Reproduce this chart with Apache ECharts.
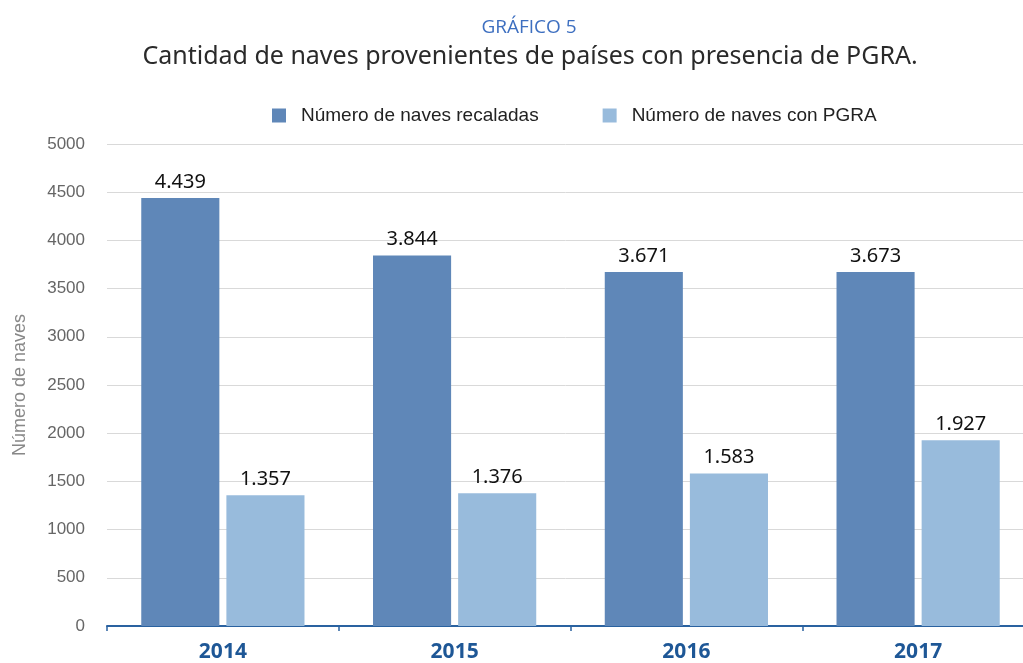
<!DOCTYPE html>
<html><head><meta charset="utf-8">
<script src="https://cdn.jsdelivr.net/npm/echarts@6/dist/echarts.min.js"></script>
<style>html,body{margin:0;padding:0;background:#fff}#c{width:1023px;height:663px}</style>
</head><body><div id="c"></div>
<script>
const categories = ['2014','2015','2016','2017'];
const recaladas = [4439, 3844, 3671, 3673];
const conPGRA = [1357, 1376, 1583, 1927];
const seriesNames = ['Número de naves recaladas','Número de naves con PGRA'];

const chart = echarts.init(document.getElementById('c'));
const fmt = v => String(v.value).replace(/\B(?=(\d{3})+(?!\d))/g, '.');
chart.setOption({
  animation: false,
  title: [
    {text: 'GRÁFICO 5', left: 524, textAlign: 'center', top: 13, textStyle: {fontFamily: 'Open Sans', fontWeight: 'normal', fontSize: 19, color: '#3d6fc0'}},
    {text: 'Cantidad de naves provenientes de países con presencia de PGRA.', left: 525, textAlign: 'center', top: 39, textStyle: {fontFamily: 'Noto Sans', fontWeight: 'normal', fontSize: 25, color: '#2a2a2a'}}
  ],
  legend: {
    top: 101, left: 267, itemWidth: 14, itemHeight: 14, itemGap: 64,
    textStyle: {fontFamily: 'Liberation Sans', fontSize: 19, color: '#222', padding: [0, 0, 0, 10]},
    icon: 'rect'
  },
  grid: {left: 107, width: 927, top: 144, bottom: 37, outerBoundsMode: 'none'},
  xAxis: {
    type: 'category', data: categories,
    axisLine: {lineStyle: {color: '#2a62a0', width: 2}},
    axisTick: {show: true, length: 5, lineStyle: {color: '#2a62a0', width: 1.5}},
    axisLabel: {fontFamily: 'Noto Sans', fontWeight: 'bold', fontSize: 21, color: '#1e5796', margin: 16}
  },
  yAxis: {
    type: 'value', min: 0, max: 5000, interval: 500,
    name: 'Número de naves', nameLocation: 'middle', nameGap: 78,
    nameTextStyle: {fontFamily: 'Liberation Sans', fontSize: 18, color: '#888'},
    axisLabel: {fontFamily: 'Liberation Sans', fontSize: 17, color: '#666', margin: 22, formatter: v => String(v)},
    splitLine: {lineStyle: {color: '#d9d9d9', width: 1}},
    axisLine: {show: false}, axisTick: {show: false}
  },
  series: [
    {name: seriesNames[0], type: 'bar', data: recaladas, barWidth: '33.7%', barGap: '9%',
     itemStyle: {color: '#5f87b8'},
     label: {show: true, position: 'top', formatter: fmt, fontFamily: 'Noto Sans', fontSize: 20, color: '#111', distance: 6}},
    {name: seriesNames[1], type: 'bar', data: conPGRA, barWidth: '33.7%',
     itemStyle: {color: '#98bbdc'},
     label: {show: true, position: 'top', formatter: fmt, fontFamily: 'Noto Sans', fontSize: 20, color: '#111', distance: 6}}
  ]
});
</script></body></html>
